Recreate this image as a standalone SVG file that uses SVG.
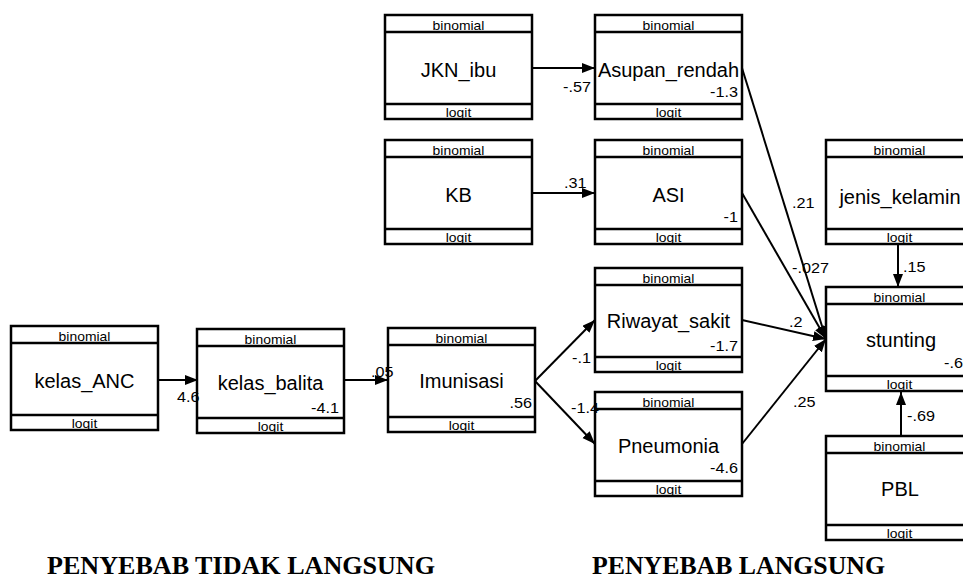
<svg xmlns="http://www.w3.org/2000/svg" width="963" height="580" viewBox="0 0 963 580">
  <style>
    .frame { fill: #fff; stroke: #000; stroke-width: 2.5; }
    .sep { stroke: #000; stroke-width: 2.5; }
    .edge { fill: none; stroke: #000; stroke-width: 2; }
    .hd { font-family: "Liberation Sans", Arial, sans-serif; font-size: 13px; text-anchor: middle; fill: #000; }
    .nm { font-family: "Liberation Sans", Arial, sans-serif; font-size: 20px; text-anchor: middle; fill: #000; }
    .cst { font-family: "Liberation Sans", Arial, sans-serif; font-size: 15px; text-anchor: end; fill: #000; }
    .coef { font-family: "Liberation Sans", Arial, sans-serif; font-size: 15px; text-anchor: start; fill: #000; }
    .title { font-family: "Liberation Serif", "Times New Roman", serif; font-size: 25px; font-weight: bold; text-anchor: middle; fill: #000; }
  </style>
  <defs>
    <marker id="arr" markerUnits="userSpaceOnUse" markerWidth="14" markerHeight="11" refX="13" refY="5" orient="auto">
      <path d="M0,0 L13,5 L0,10 z" fill="#000"/>
    </marker>
    <!-- generic variable box: header (family), body, footer (link) -->
    <g id="box">
      <rect class="frame" x="0" y="0" width="147" height="104"/>
      <line class="sep" x1="0" y1="17" x2="147" y2="17"/>
      <line class="sep" x1="0" y1="89" x2="147" y2="89"/>
      <text class="hd" transform="translate(73.5,15) scale(1.07,1)">binomial</text>
      <text class="hd" transform="translate(73.5,102) scale(1.07,1)">logit</text>
    </g>
  </defs>

  <g id="JKN_ibu" transform="translate(385,15)">
    <use href="#box"/>
    <text class="nm" x="73.5" y="62">JKN_ibu</text>
  </g>
  <g id="Asupan_rendah" transform="translate(595,15)">
    <use href="#box"/>
    <text class="nm" x="73.5" y="62">Asupan_rendah</text>
    <text class="cst" transform="translate(143,82) scale(1.08,1)">-1.3</text>
  </g>
  <g id="KB" transform="translate(385,140)">
    <use href="#box"/>
    <text class="nm" x="73.5" y="62">KB</text>
  </g>
  <g id="ASI" transform="translate(595,140)">
    <use href="#box"/>
    <text class="nm" x="73.5" y="62">ASI</text>
    <text class="cst" transform="translate(143,82) scale(1.08,1)">-1</text>
  </g>
  <g id="kelas_ANC" transform="translate(11,326)">
    <use href="#box"/>
    <text class="nm" x="73.5" y="62">kelas_ANC</text>
  </g>
  <g id="kelas_balita" transform="translate(197,329)">
    <use href="#box"/>
    <text class="nm" x="73.5" y="61">kelas_balita</text>
    <text class="cst" transform="translate(142,84) scale(1.08,1)">-4.1</text>
  </g>
  <g id="Imunisasi" transform="translate(388,328)">
    <use href="#box"/>
    <text class="nm" x="73.5" y="60">Imunisasi</text>
    <text class="cst" transform="translate(144,80) scale(1.08,1)">.56</text>
  </g>
  <g id="Riwayat_sakit" transform="translate(595,268)">
    <use href="#box"/>
    <text class="nm" x="73.5" y="60">Riwayat_sakit</text>
    <text class="cst" transform="translate(143,83) scale(1.08,1)">-1.7</text>
  </g>
  <g id="Pneumonia" transform="translate(595,392)">
    <use href="#box"/>
    <text class="nm" x="73.5" y="61">Pneumonia</text>
    <text class="cst" transform="translate(143,81) scale(1.08,1)">-4.6</text>
  </g>
  <g id="jenis_kelamin" transform="translate(826,140)">
    <use href="#box"/>
    <text class="nm" x="74" y="64">jenis_kelamin</text>
  </g>
  <g id="stunting" transform="translate(826,287)">
    <use href="#box"/>
    <text class="nm" x="75" y="60">stunting</text>
    <text class="coef" transform="translate(118,81) scale(1.08,1)">-.6</text>
  </g>
  <g id="PBL" transform="translate(826,436)">
    <use href="#box"/>
    <text class="nm" x="74" y="60">PBL</text>
  </g>

  <!-- paths with their coefficients -->
  <g id="connectors">
    <path class="edge" d="M533,68 L595,68" marker-end="url(#arr)"/>
    <path class="edge" d="M533,193 L595,193" marker-end="url(#arr)"/>
    <path class="edge" d="M157,380 L198,380" marker-end="url(#arr)"/>
    <path class="edge" d="M343,380 L388,380" marker-end="url(#arr)"/>
    <path class="edge" d="M535,381 L595,320" marker-end="url(#arr)"/>
    <path class="edge" d="M535,381 L595,444" marker-end="url(#arr)"/>
    <path class="edge" d="M742,68 L826,339" marker-end="url(#arr)"/>
    <path class="edge" d="M742,193 L826,339" marker-end="url(#arr)"/>
    <path class="edge" d="M742,320 L826,339" marker-end="url(#arr)"/>
    <path class="edge" d="M742,444 L826,339" marker-end="url(#arr)"/>
    <path class="edge" d="M898,244 L898,287" marker-end="url(#arr)"/>
    <path class="edge" d="M901,436 L901,392" marker-end="url(#arr)"/>

    <text class="coef" transform="translate(563,92) scale(1.08,1)">-.57</text>
    <text class="coef" transform="translate(564,188) scale(1.08,1)">.31</text>
    <text class="coef" transform="translate(177,402) scale(1.08,1)">4.6</text>
    <text class="coef" transform="translate(371,377) scale(1.08,1)">.05</text>
    <text class="coef" transform="translate(572,363) scale(1.08,1)">-.1</text>
    <text class="coef" transform="translate(571,413) scale(1.08,1)">-1.4</text>
    <text class="coef" transform="translate(792,208) scale(1.08,1)">.21</text>
    <text class="coef" transform="translate(792,273) scale(1.08,1)">-.027</text>
    <text class="coef" transform="translate(789,327) scale(1.08,1)">.2</text>
    <text class="coef" transform="translate(793,407) scale(1.08,1)">.25</text>
    <text class="coef" transform="translate(903,272) scale(1.08,1)">.15</text>
    <text class="coef" transform="translate(907,421) scale(1.08,1)">-.69</text>
  </g>

  <text class="title" x="241" y="574" textLength="388" lengthAdjust="spacingAndGlyphs">PENYEBAB TIDAK LANGSUNG</text>
  <text class="title" x="738.5" y="574" textLength="293" lengthAdjust="spacingAndGlyphs">PENYEBAB LANGSUNG</text>
</svg>
